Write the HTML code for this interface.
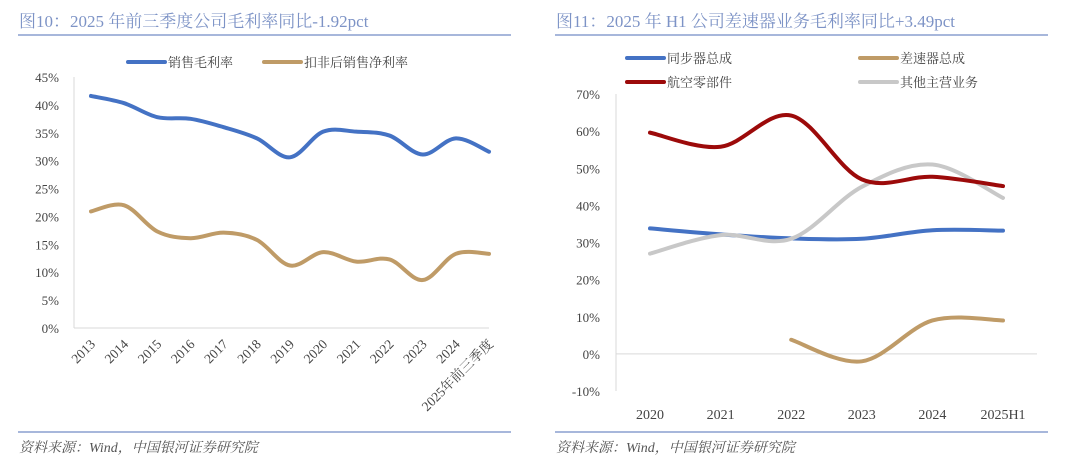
<!DOCTYPE html>
<html><head><meta charset="utf-8">
<style>
body{margin:0;width:1080px;height:466px;background:#fff;overflow:hidden;font-family:"Liberation Serif","Noto Serif CJK SC",serif;}
svg{position:absolute;left:0;top:0}
.t{font-family:"Liberation Serif","Noto Serif CJK SC",serif;}
</style></head>
<body>
<svg id="c" width="1080" height="466"></svg>
<script>
const leftCats=['2013','2014','2015','2016','2017','2018','2019','2020','2021','2022','2023','2024','2025年前三季度'];
const grossMargin=[41.6,40.3,37.8,37.5,36.0,34.0,30.6,35.2,35.2,34.5,31.1,34.0,31.6];
const netMargin=[20.9,22.0,17.3,16.1,17.1,15.8,11.2,13.6,11.9,12.3,8.6,13.3,13.3];
const leftTicks=[0,5,10,15,20,25,30,35,40,45];
const rightCats=['2020','2021','2022','2023','2024','2025H1'];
const syncSeries=[33.8,32.2,31.1,31.0,33.3,33.2];
const gearSeries=[null,null,3.8,-2.0,9.0,9.0];
const aeroSeries=[59.6,55.8,64.2,47.0,47.7,45.2];
const otherSeries=[27.0,32.0,31.0,45.0,51.0,42.0];
const rightTicks=[-10,0,10,20,30,40,50,60,70];

const svg=document.getElementById('c');
const NS='http://www.w3.org/2000/svg';
function mk(tag,attrs,name,parent){const e=document.createElementNS(NS,tag);for(const k in attrs)e.setAttribute(k,attrs[k]);


(parent||svg).appendChild(e);return e;}
function txt(x,y,s,attrs,name){const e=mk('text',Object.assign({x:x,y:y,'class':'t'},attrs),name);e.textContent=s;return e;}
function smooth(pts){if(pts.length<2)return'';let d='M'+pts[0][0]+','+pts[0][1];
for(let i=0;i<pts.length-1;i++){const p0=pts[i-1]||pts[i],p1=pts[i],p2=pts[i+1],p3=pts[i+2]||p2;const t=6;
d+=' C'+(p1[0]+(p2[0]-p0[0])/t)+','+(p1[1]+(p2[1]-p0[1])/t)+' '+(p2[0]-(p3[0]-p1[0])/t)+','+(p2[1]-(p3[1]-p1[1])/t)+' '+p2[0]+','+p2[1];}return d;}

const blue='#7d93c6';
mk('line',{x1:18,y1:35,x2:511,y2:35,stroke:'#8a9fcf','stroke-width':1.5},'left-title-rule');
mk('line',{x1:18,y1:432,x2:511,y2:432,stroke:'#8a9fcf','stroke-width':1.5},'left-footer-rule');
mk('line',{x1:555,y1:35,x2:1048,y2:35,stroke:'#8a9fcf','stroke-width':1.5},'right-title-rule');
mk('line',{x1:555,y1:432,x2:1048,y2:432,stroke:'#8a9fcf','stroke-width':1.5},'right-footer-rule');
txt(19,27,'图10：2025 年前三季度公司毛利率同比-1.92pct',{fill:blue,'font-size':17},'left-chart-title');
txt(556,27,'图11：2025 年 H1 公司差速器业务毛利率同比+3.49pct',{fill:blue,'font-size':17},'right-chart-title');
txt(19,452,'资料来源：Wind，中国银河证券研究院',{fill:'#555','font-size':14,'font-style':'italic'},'left-source-note');
txt(556,452,'资料来源：Wind，中国银河证券研究院',{fill:'#555','font-size':14,'font-style':'italic'},'right-source-note');

// LEFT CHART
const lx0=74,lx1=489,lyTop=77,lyBot=328;
const lX=i=>91+i*(489-91)/(leftCats.length-1);
const lY=v=>lyBot-(v/45)*(lyBot-lyTop);
mk('line',{x1:lx0,y1:lyTop,x2:lx0,y2:lyBot,stroke:'#d9d9d9'},'left-y-axis-line');
mk('line',{x1:lx0,y1:lyBot,x2:lx1,y2:lyBot,stroke:'#d9d9d9'},'left-x-axis-line');
leftTicks.forEach(v=>txt(59,lY(v)+5,v+'%',{fill:'#444','font-size':13,'text-anchor':'end'},'left-y-tick-label'));
leftCats.forEach((c,i)=>txt(lX(i)+5,345,c,{fill:'#444','font-size':13.5,'text-anchor':'end',transform:'rotate(-45 '+(lX(i)+5)+' 345)'},'left-x-tick-label'));
mk('path',{d:smooth(grossMargin.map((v,i)=>[lX(i),lY(v)])),fill:'none',stroke:'#4472c4','stroke-width':4,'stroke-linecap':'round'},'gross-margin-line');
mk('path',{d:smooth(netMargin.map((v,i)=>[lX(i),lY(v)])),fill:'none',stroke:'#bf9b67','stroke-width':4,'stroke-linecap':'round'},'net-margin-line');
mk('line',{x1:128,y1:62,x2:165,y2:62,stroke:'#4472c4','stroke-width':4,'stroke-linecap':'round'},'legend-gross-swatch');
txt(168,67,'销售毛利率',{fill:'#444','font-size':13},'legend-gross-label');
mk('line',{x1:264,y1:62,x2:301,y2:62,stroke:'#bf9b67','stroke-width':4,'stroke-linecap':'round'},'legend-net-swatch');
txt(304,67,'扣非后销售净利率',{fill:'#444','font-size':13},'legend-net-label');

// RIGHT CHART
const rx0=616,rx1=1037,ryTop=94,ryBot=391;
const rX=i=>650+i*(1003-650)/(rightCats.length-1);
const rY=v=>ryBot-((v+10)/80)*(ryBot-ryTop);
mk('line',{x1:rx0,y1:ryTop,x2:rx0,y2:ryBot,stroke:'#d9d9d9'},'right-y-axis-line');
mk('line',{x1:rx0,y1:rY(0),x2:rx1,y2:rY(0),stroke:'#d9d9d9'},'right-zero-line');
rightTicks.forEach(v=>txt(600,rY(v)+5,v+'%',{fill:'#444','font-size':13,'text-anchor':'end'},'right-y-tick-label'));
rightCats.forEach((c,i)=>txt(rX(i),419,c,{fill:'#444','font-size':14,'text-anchor':'middle'},'right-x-tick-label'));
function series(arr,color,name){const pts=[];arr.forEach((v,i)=>{if(v!==null)pts.push([rX(i),rY(v)]);});
mk('path',{d:smooth(pts),fill:'none',stroke:color,'stroke-width':4,'stroke-linecap':'round'},name);}
series(syncSeries,'#4472c4','synchronizer-line');
series(otherSeries,'#c8c8c8','other-business-line');
series(aeroSeries,'#9c0a0a','aerospace-parts-line');
series(gearSeries,'#bf9b67','differential-line');
const leg=[['同步器总成','#4472c4',627,58],['差速器总成','#bf9b67',860,58],['航空零部件','#9c0a0a',627,82],['其他主营业务','#c8c8c8',860,82]];
leg.forEach(l=>{mk('line',{x1:l[2],y1:l[3],x2:l[2]+37,y2:l[3],stroke:l[1],'stroke-width':4,'stroke-linecap':'round'},'legend-swatch');
txt(l[2]+40,l[3]+5,l[0],{fill:'#444','font-size':13},'legend-label');});
</script>
</body></html>
